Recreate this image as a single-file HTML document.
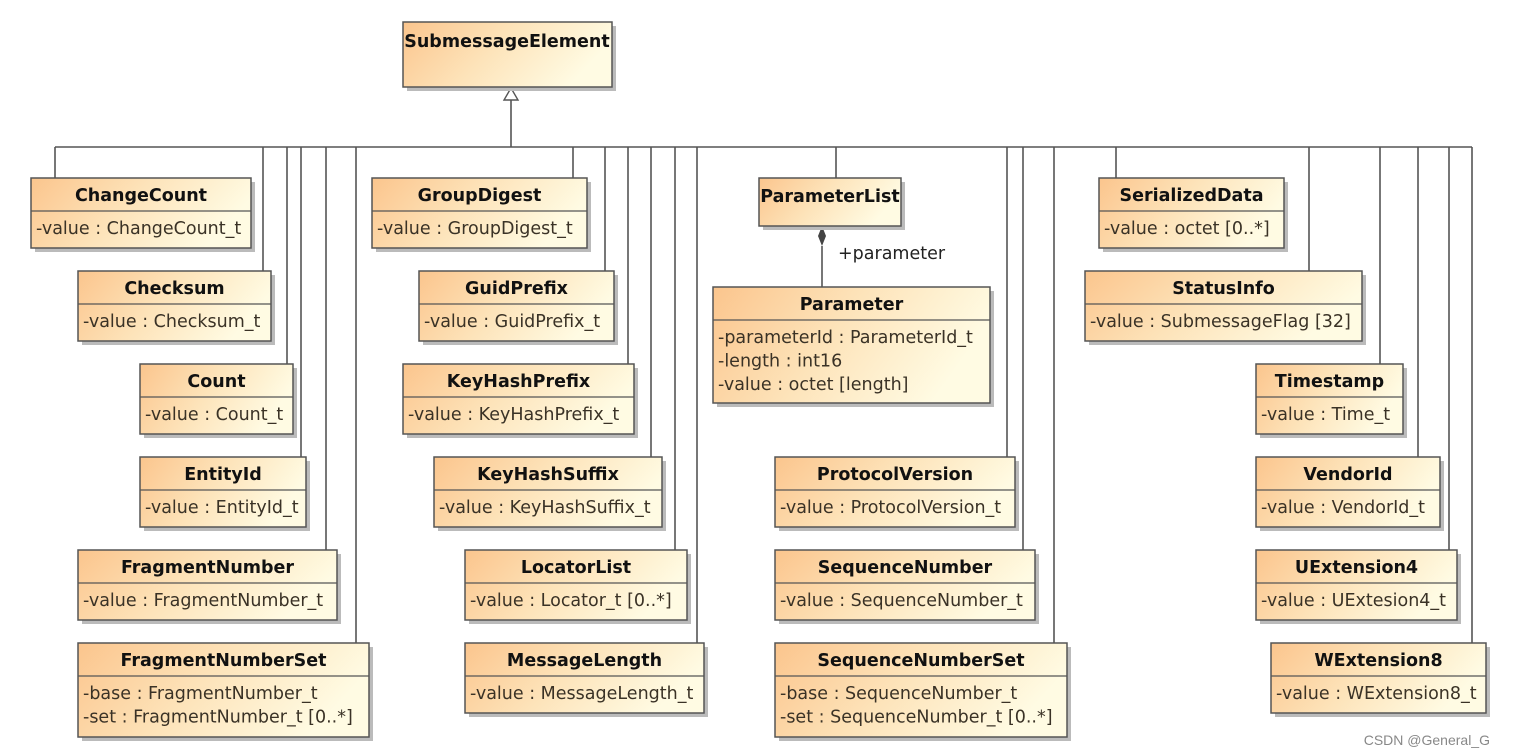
<!DOCTYPE html>
<html><head><meta charset="utf-8"><style>
html,body{margin:0;padding:0;background:#fff;}
svg{display:block;}
.t{font-family:"DejaVu Sans","Liberation Sans",sans-serif;font-weight:bold;font-size:17.5px;fill:#111;}
.a{font-family:"DejaVu Sans","Liberation Sans",sans-serif;font-size:17.5px;fill:#3a3226;}
.l{stroke:#555;stroke-width:1.6;fill:none;}
</style></head><body>
<svg width="1534" height="756" viewBox="0 0 1534 756" xmlns="http://www.w3.org/2000/svg">
<defs>
<linearGradient id="g" x1="0" y1="0" x2="1" y2="0.3">
<stop offset="0" stop-color="#fbc58d"/><stop offset="0.5" stop-color="#fde3b9"/><stop offset="1" stop-color="#fffbe3"/>
</linearGradient>
</defs>
<g class="l">
<line x1="55" y1="147" x2="1472" y2="147"/>
<line x1="511" y1="100" x2="511" y2="147"/>
<line x1="55" y1="147" x2="55" y2="178"/>
<line x1="263" y1="147" x2="263" y2="271"/>
<line x1="287" y1="147" x2="287" y2="364"/>
<line x1="301" y1="147" x2="301" y2="457"/>
<line x1="326" y1="147" x2="326" y2="550"/>
<line x1="356" y1="147" x2="356" y2="643"/>
<line x1="573" y1="147" x2="573" y2="178"/>
<line x1="605" y1="147" x2="605" y2="271"/>
<line x1="628" y1="147" x2="628" y2="364"/>
<line x1="651" y1="147" x2="651" y2="457"/>
<line x1="675" y1="147" x2="675" y2="550"/>
<line x1="697" y1="147" x2="697" y2="643"/>
<line x1="836" y1="147" x2="836" y2="178"/>
<line x1="1007" y1="147" x2="1007" y2="457"/>
<line x1="1023" y1="147" x2="1023" y2="550"/>
<line x1="1054" y1="147" x2="1054" y2="643"/>
<line x1="1116" y1="147" x2="1116" y2="178"/>
<line x1="1309" y1="147" x2="1309" y2="271"/>
<line x1="1380" y1="147" x2="1380" y2="364"/>
<line x1="1418" y1="147" x2="1418" y2="457"/>
<line x1="1449" y1="147" x2="1449" y2="550"/>
<line x1="1472" y1="147" x2="1472" y2="643"/>
<line x1="822" y1="246" x2="822" y2="287"/>
</g>
<polygon points="511,88 504,100 518,100" fill="#fff" stroke="#555" stroke-width="1.4"/>
<polygon points="822,226 826,236 822,246 818,236" fill="#444"/>
<text x="838" y="259" class="a" style="fill:#222">+parameter</text>
<g>
<rect x="407" y="26" width="209" height="65" fill="#bbb"/>
<rect x="403" y="22" width="209" height="65" fill="url(#g)" stroke="#555" stroke-width="1.5"/>
<text x="507" y="47" text-anchor="middle" class="t">SubmessageElement</text>
</g>
<g id="b"></g>
<script>
var B=[
[31,178,220,70,"ChangeCount",["-value : ChangeCount_t"]],
[78,271,193,70,"Checksum",["-value : Checksum_t"]],
[140,364,153,70,"Count",["-value : Count_t"]],
[140,457,166,70,"EntityId",["-value : EntityId_t"]],
[78,550,259,70,"FragmentNumber",["-value : FragmentNumber_t"]],
[78,643,291,94,"FragmentNumberSet",["-base : FragmentNumber_t","-set : FragmentNumber_t [0..*]"]],
[372,178,215,70,"GroupDigest",["-value : GroupDigest_t"]],
[419,271,195,70,"GuidPrefix",["-value : GuidPrefix_t"]],
[403,364,231,70,"KeyHashPrefix",["-value : KeyHashPrefix_t"]],
[434,457,228,70,"KeyHashSuffix",["-value : KeyHashSuffix_t"]],
[465,550,222,70,"LocatorList",["-value : Locator_t [0..*]"]],
[465,643,239,70,"MessageLength",["-value : MessageLength_t"]],
[759,178,142,48,"ParameterList",[]],
[713,287,277,116,"Parameter",["-parameterId : ParameterId_t","-length : int16","-value : octet [length]"]],
[775,457,240,70,"ProtocolVersion",["-value : ProtocolVersion_t"]],
[775,550,260,70,"SequenceNumber",["-value : SequenceNumber_t"]],
[775,643,292,94,"SequenceNumberSet",["-base : SequenceNumber_t","-set : SequenceNumber_t [0..*]"]],
[1099,178,185,70,"SerializedData",["-value : octet [0..*]"]],
[1085,271,277,70,"StatusInfo",["-value : SubmessageFlag [32]"]],
[1256,364,147,70,"Timestamp",["-value : Time_t"]],
[1256,457,184,70,"VendorId",["-value : VendorId_t"]],
[1256,550,201,70,"UExtension4",["-value : UExtesion4_t"]],
[1271,643,215,70,"WExtension8",["-value : WExtension8_t"]]
];
var ns="http://www.w3.org/2000/svg",g=document.getElementById("b");
function el(t,a,txt){var e=document.createElementNS(ns,t);for(var k in a)e.setAttribute(k,a[k]);if(txt)e.textContent=txt;g.appendChild(e);return e;}
B.forEach(function(b){var x=b[0],y=b[1],w=b[2],h=b[3];
el("rect",{x:x+4,y:y+4,width:w,height:h,fill:"#bbb"});
el("rect",{x:x,y:y,width:w,height:h,fill:"url(#g)",stroke:"#555","stroke-width":1.5});
el("text",{x:x+w/2,y:y+(b[5].length?23:24),"text-anchor":"middle","class":"t"},b[4]);
if(b[5].length){el("line",{x1:x,y1:y+33,x2:x+w,y2:y+33,stroke:"#555","stroke-width":1.3});
b[5].forEach(function(s,i){el("text",{x:x+5,y:y+56+i*23.5,"class":"a"},s);});}
});
</script>
<text x="1490" y="745" text-anchor="end" style="font-family:'Liberation Sans',sans-serif;font-size:14px;fill:#888">CSDN @General_G</text>
</svg>
</body></html>
